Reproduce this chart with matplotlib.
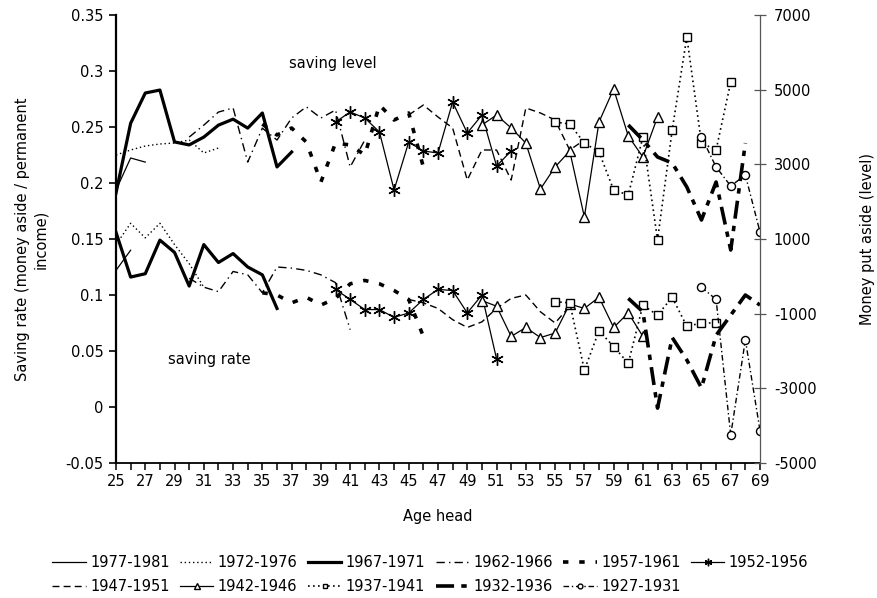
import matplotlib
matplotlib.use("Agg")
import matplotlib.pyplot as plt

# cohorts (birth years), legend order
cohorts = ['1977-1981', '1972-1976', '1967-1971', '1962-1966', '1957-1961', '1952-1956',
           '1947-1951', '1942-1946', '1937-1941', '1932-1936', '1927-1931']

# first age observed for each cohort
first_age = [25, 25, 25, 30, 35, 40, 45, 50, 55, 60, 65]

# saving rate (money aside / permanent income), left axis
rate_1977 = [0.122, 0.140]
rate_1972 = [0.145, 0.164, 0.151, 0.164, 0.145, 0.128, 0.107]
rate_1967 = [0.156, 0.116, 0.119, 0.149, 0.138, 0.108, 0.145, 0.129, 0.137, 0.125, 0.118, 0.088]
rate_1962 = [0.115, 0.107, 0.103, 0.121, 0.118, 0.102, 0.125, 0.124, 0.122, 0.118, 0.111, 0.069]
rate_1957 = [0.102, 0.100, 0.093, 0.098, 0.091, 0.097, 0.110, 0.113, 0.110, 0.104, 0.096, 0.063]
rate_1952 = [0.105, 0.096, 0.087, 0.087, 0.080, 0.084, 0.096, 0.105, 0.104, 0.084, 0.100, 0.043]
rate_1947 = [0.096, 0.093, 0.088, 0.078, 0.071, 0.076, 0.088, 0.097, 0.100, 0.085, 0.075, 0.090]
rate_1942 = [0.095, 0.090, 0.063, 0.071, 0.062, 0.066, 0.092, 0.088, 0.098, 0.071, 0.084, 0.063]
rate_1937 = [0.094, 0.093, 0.033, 0.068, 0.054, 0.039, 0.091, 0.082, 0.098, 0.072, 0.075, 0.075]
rate_1932 = [0.097, 0.085, -0.001, 0.062, 0.042, 0.017, 0.064, 0.082, 0.100, 0.091]
rate_1927 = [0.107, 0.096, -0.025, 0.060, -0.021]

# money put aside (level), right axis
level_1977 = [2310, 3170, 3060]
level_1972 = [3250, 3384, 3491, 3545, 3571, 3652, 3304, 3438]
level_1967 = [2230, 4100, 4910, 4990, 3600, 3520, 3730, 4050, 4210, 3970, 4375, 2930, 3330]
level_1962 = [3730, 4050, 4400, 4510, 3060, 3970, 3650, 4240, 4540, 4240, 4455, 2930, 3650]
level_1957 = [4080, 3786, 3973, 3598, 2527, 3571, 3518, 3250, 4589, 4187, 4375, 2929]
level_1952 = [4134, 4402, 4241, 3866, 2313, 3598, 3357, 3304, 4670, 3839, 4321, 2955, 3357]
level_1947 = [4321, 4589, 4268, 3973, 2580, 3384, 3384, 2580, 4509, 4375, 4187, 3384, 3652]
level_1942 = [4054, 4321, 3973, 3571, 2339, 2929, 3357, 1589, 4134, 5018, 3759, 3196, 4268]
level_1937 = [4134, 4080, 3571, 3330, 2313, 2179, 3732, 973, 3920, 6411, 3571, 3384, 5205]
level_1932 = [4054, 3652, 3196, 3036, 2393, 1509, 2527, 705, 3571]
level_1927 = [3732, 2929, 2420, 2714, 1188]

rates = [rate_1977, rate_1972, rate_1967, rate_1962, rate_1957, rate_1952,
         rate_1947, rate_1942, rate_1937, rate_1932, rate_1927]
levels = [level_1977, level_1972, level_1967, level_1962, level_1957, level_1952,
          level_1947, level_1942, level_1937, level_1932, level_1927]

# line styles per cohort
styles = [
    dict(color='black', lw=0.9, ls='-'),
    dict(color='black', lw=1.0, ls=(0, (1, 2))),
    dict(color='black', lw=2.3, ls='-'),
    dict(color='black', lw=1.0, ls=(0, (6, 3, 1, 3))),
    dict(color='black', lw=2.6, ls=(0, (1.5, 3))),
    dict(color='black', lw=0.9, ls='-', marker=(6, 2, 0), ms=9, mew=1.0),
    dict(color='black', lw=1.0, ls=(0, (5, 3))),
    dict(color='black', lw=0.9, ls='-', marker='^', ms=7.5, mfc='white', mew=1.0),
    dict(color='black', lw=1.2, ls=(0, (1, 2)), marker='s', ms=5.8, mfc='white', mew=1.0),
    dict(color='black', lw=2.6, ls=(0, (5, 2, 1.5, 2))),
    dict(color='black', lw=1.0, ls=(0, (4, 2, 1, 2)), marker='o', ms=5.8, mfc='white', mew=1.0),
]

plt.rcParams['font.family'] = 'DejaVu Sans'
fs = 10.5

fig = plt.figure(figsize=(8.78, 5.98), dpi=100)
ax = fig.add_axes([116 / 878, 1 - 463 / 598, (760 - 116) / 878, (463 - 15) / 598])
ax2 = ax.twinx()

handles = []
for name, a0, r, lv, st in zip(cohorts, first_age, rates, levels, styles):
    h, = ax.plot(range(a0, a0 + len(r)), r, label=name, **st)
    ax2.plot(range(a0, a0 + len(lv)), lv, **st)
    handles.append(h)

ax.set_xlim(25, 69)
ax.set_ylim(-0.05, 0.35)
ax2.set_ylim(-5000, 7000)

ax.set_xticks(range(25, 70))
ax.set_xticklabels([str(a) if a % 2 == 1 else '' for a in range(25, 70)], fontsize=fs)
yt = [-0.05, 0, 0.05, 0.1, 0.15, 0.2, 0.25, 0.3, 0.35]
ax.set_yticks(yt)
ax.set_yticklabels(['%g' % v for v in yt], fontsize=fs)
ax2.set_yticks(range(-5000, 7001, 2000))
ax2.set_yticklabels([str(v) for v in range(-5000, 7001, 2000)], fontsize=fs)

for s in ['top', 'right']:
    ax.spines[s].set_visible(False)
for s in ['top', 'left', 'bottom']:
    ax2.spines[s].set_visible(False)
ax.spines['left'].set_linewidth(1.6)
ax.spines['bottom'].set_linewidth(1.3)
ax2.spines['right'].set_color('#555555')
ax2.spines['right'].set_linewidth(0.9)
ax.tick_params(axis='x', direction='out', length=5, width=1.1, pad=3)
ax.tick_params(axis='y', direction='out', length=5, width=1.2, pad=4)
ax2.tick_params(axis='y', direction='inout', length=8, width=0.9, color='#555555', pad=6)

ax.set_xlabel('Age head', fontsize=fs, labelpad=14)
fig.text(0.036, 0.6, 'Saving rate (money aside / permanent\nincome)', rotation=90,
         ha='center', va='center', fontsize=fs, multialignment='center')
fig.text(0.988, 0.6, 'Money put aside (level)', rotation=90, ha='center', va='center', fontsize=fs)

ax.text(39.8, 0.307, 'saving level', ha='center', va='center', fontsize=fs)
ax.text(31.4, 0.042, 'saving rate', ha='center', va='center', fontsize=fs)

# legend filled row by row: 6 on top, 5 below
order = [0, 6, 1, 7, 2, 8, 3, 9, 4, 10, 5]
fig.legend([handles[i] for i in order], [cohorts[i] for i in order],
           loc='center', bbox_to_anchor=(0.49, 0.039), ncol=6, frameon=False,
           fontsize=fs, handlelength=2.3, columnspacing=0.7, handletextpad=0.3,
           labelspacing=0.65, markerscale=0.6)

fig.savefig('out.png', dpi=100)
